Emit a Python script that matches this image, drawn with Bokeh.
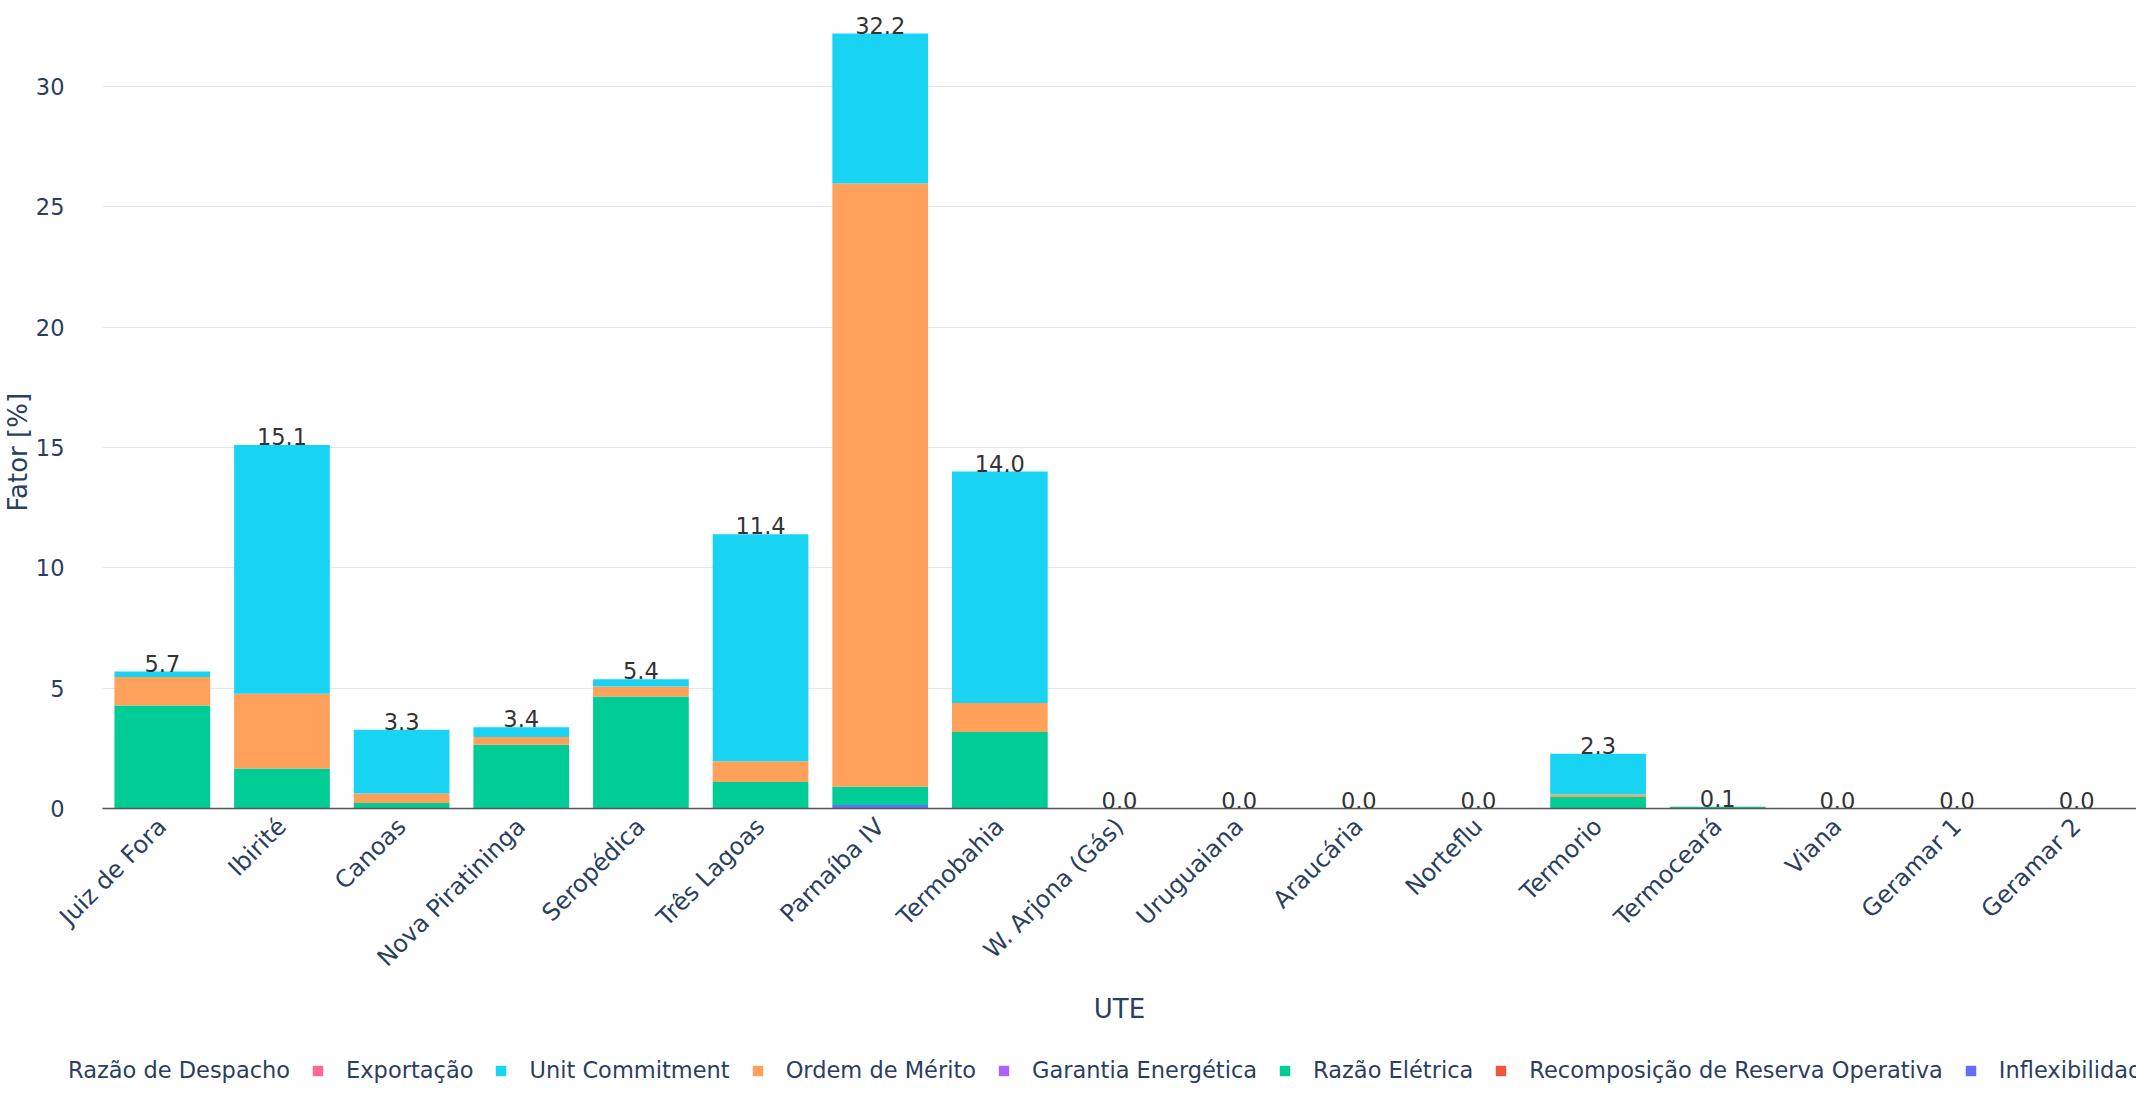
import math
from bokeh.plotting import figure
from bokeh.layouts import column
from bokeh.models import (ColumnDataSource, FactorRange, Range1d, FixedTicker,
                          Legend, LegendItem, Title)
from bokeh.core.properties import value
from bokeh.embed import file_html
from bokeh.resources import INLINE

# ---------------- data ----------------
categories = ["Juiz de Fora", "Ibirité", "Canoas", "Nova Piratininga", "Seropédica",
              "Três Lagoas", "Parnaíba IV", "Termobahia", "W. Arjona (Gás)", "Uruguaiana",
              "Araucária", "Norteflu", "Termorio", "Termoceará", "Viana", "Geramar 1",
              "Geramar 2"]

inflexibilidade = [0, 0, 0, 0, 0, 0, 0.15, 0, 0, 0, 0, 0, 0, 0, 0, 0, 0]
recomposicao =    [0, 0, 0, 0, 0, 0, 0, 0, 0, 0, 0, 0, 0, 0, 0, 0, 0]
razao_eletrica =  [4.28, 1.66, 0.23, 2.65, 4.65, 1.10, 0.75, 3.18, 0, 0, 0, 0, 0.48, 0.07, 0, 0, 0]
garantia =        [0, 0, 0, 0, 0, 0, 0, 0, 0, 0, 0, 0, 0, 0, 0, 0, 0]
ordem_merito =    [1.18, 3.11, 0.39, 0.32, 0.42, 0.86, 25.07, 1.20, 0, 0, 0, 0, 0.10, 0, 0, 0, 0]
unit_commitment = [0.23, 10.33, 2.65, 0.41, 0.30, 9.44, 6.23, 9.62, 0, 0, 0, 0, 1.70, 0, 0, 0, 0]
exportacao =      [0, 0, 0, 0, 0, 0, 0, 0, 0, 0, 0, 0, 0, 0, 0, 0, 0]

# legend order (as shown) and stack order (bottom-up) are reversed
legend_names = ["Exportação", "Unit Commitment", "Ordem de Mérito", "Garantia Energética",
                "Razão Elétrica", "Recomposição de Reserva Operativa", "Inflexibilidade"]
legend_colors = ["#FF6692", "#19D3F3", "#FFA15A", "#AB63FA", "#00CC96", "#EF553B", "#636EFA"]
legend_series = [exportacao, unit_commitment, ordem_merito, garantia, razao_eletrica,
                 recomposicao, inflexibilidade]
legend_title = "Razão de Despacho"
y_title = "Fator [%]"
x_title = "UTE"
y_ticks = [0, 5, 10, 15, 20, 25, 30]

# ---------------- build ----------------
FONT = "DejaVu Sans"
TXT = "#2a3f5f"
W = 2136

data = {"UTE": categories}
keys = []
for i, s in enumerate(legend_series):
    k = "s%d" % i
    data[k] = s
    keys.append(k)
totals = [sum(v) for v in zip(*legend_series)]
data["total"] = totals
data["label"] = ["%.1f" % t for t in totals]
source = ColumnDataSource(data)

p = figure(x_range=FactorRange(*categories, range_padding=0),
           y_range=Range1d(0, 33.24),
           width=W, height=1048, output_backend="svg", toolbar_location=None,
           min_border_left=101, min_border_right=0, min_border_top=8,
           min_border_bottom=240)
p.outline_line_color = None
p.background_fill_color = "white"

stack_keys = keys[::-1]
stack_colors = legend_colors[::-1]
p.vbar_stack(stack_keys, x="UTE", width=0.8, color=stack_colors,
             line_color=None, source=source)

p.text(x="UTE", y="total", text="label", source=source, text_align="center",
       text_baseline="bottom", y_offset=0, text_font=value(FONT),
       text_font_size="22.5px", text_color="#333333")

# axes
p.yaxis.ticker = FixedTicker(ticks=y_ticks)
p.yaxis.axis_line_color = None
p.yaxis.major_tick_line_color = None
p.yaxis.minor_tick_line_color = None
p.yaxis.major_label_standoff = 32
p.yaxis.major_label_text_font = FONT
p.yaxis.major_label_text_font_size = "22.5px"
p.yaxis.major_label_text_color = TXT

p.add_layout(Title(text=y_title, align="left", offset=297, standoff=0,
                   text_font=FONT, text_font_size="26px", text_font_style="normal",
                   text_color=TXT), "left")

p.xaxis.axis_line_color = "#555555"
p.xaxis.axis_line_width = 1.5
p.xaxis.major_tick_line_color = None
p.xaxis.minor_tick_line_color = None
p.xaxis.major_label_orientation = math.pi / 4
p.xaxis.major_label_standoff = 8
p.xaxis.major_label_text_font = FONT
p.xaxis.major_label_text_font_size = "24px"
p.xaxis.major_label_text_color = TXT
p.xaxis.axis_label = x_title
p.xaxis.axis_label_text_font = FONT
p.xaxis.axis_label_text_font_size = "26px"
p.xaxis.axis_label_text_font_style = "normal"
p.xaxis.axis_label_text_color = TXT
p.xaxis.axis_label_standoff = 9

p.xgrid.grid_line_color = None
p.ygrid.grid_line_color = "#E2E6EE"
p.ygrid.grid_line_width = 1

# ---------------- legend strip ----------------
lg = figure(width=W, height=44, x_range=Range1d(0, 1), y_range=Range1d(0, 1),
            x_axis_type=None, y_axis_type=None,
            output_backend="svg", toolbar_location=None,
            min_border_left=0, min_border_right=0, min_border_top=0, min_border_bottom=0)
lg.grid.visible = False
lg.outline_line_color = None
if "frame_align" in lg.properties():
    lg.frame_align = False
    p.frame_align = False

# off-range placeholder marks: only their styles are used by the legend
title_rend = lg.vbar(x=[-10], top=[-10], width=0.1, fill_alpha=0, line_alpha=0)
items = [LegendItem(label=legend_title, renderers=[title_rend])]
for name, c in zip(legend_names, legend_colors):
    r = lg.vbar(x=[-10], top=[-10], width=0.1, fill_color=c, line_color=None)
    items.append(LegendItem(label=name, renderers=[r]))
legend = Legend(items=items, orientation="horizontal", location=(33, 9),
                glyph_width=13, glyph_height=13, label_standoff=22, spacing=21,
                padding=0, margin=0, border_line_alpha=0, background_fill_alpha=0,
                label_text_font=FONT, label_text_font_size="22.5px",
                label_text_color=TXT)
lg.add_layout(legend, "center")

open("out.html", "w").write(file_html(column(p, lg), INLINE))
